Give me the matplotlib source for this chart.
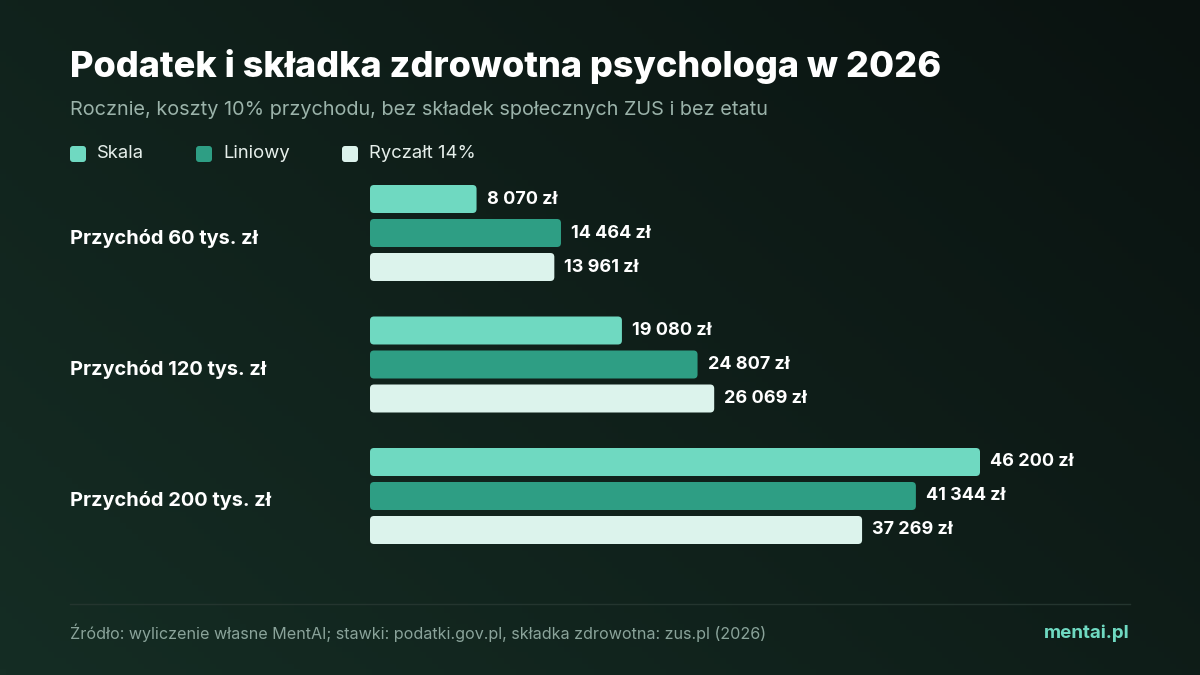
import numpy as np
import matplotlib.pyplot as plt
from matplotlib.patches import FancyBboxPatch

groups = ['Przychód 60 tys. zł', 'Przychód 120 tys. zł', 'Przychód 200 tys. zł']
series = ['Skala', 'Liniowy', 'Ryczałt 14%']
values = {
    'Skala': [8070, 19080, 46200],
    'Liniowy': [14464, 24807, 41344],
    'Ryczałt 14%': [13961, 26069, 37269],
}
colors = ['#6fd9c1', '#2e9e84', '#dcf3ec']

plt.rcParams['font.family'] = ['Inter', 'DejaVu Sans']
W, H = 1200, 675
fig = plt.figure(figsize=(12, 6.75), dpi=100)

# background gradient
bg = fig.add_axes([0, 0, 1, 1])
gx, gy = np.meshgrid(np.linspace(0, 1, 200), np.linspace(0, 1, 120))
g = np.clip(0.6 * gx + 0.4 * (1 - gy), 0, 1)
c0 = np.array([0x15, 0x2d, 0x24]) / 255
c1 = np.array([0x0a, 0x12, 0x10]) / 255
img = c0[None, None, :] * (1 - g[..., None]) + c1[None, None, :] * g[..., None]
bg.imshow(img, aspect='auto', extent=[0, W, H, 0])
bg.set_xlim(0, W); bg.set_ylim(H, 0); bg.axis('off')

# chart axes: x from 370px to 1130px, y in pixels
x0, x1 = 370, 1130
scale = 46200 / (980 - 370)
ax = fig.add_axes([x0 / W, 0, (x1 - x0) / W, 1])
ax.set_xlim(0, (x1 - x0) * scale)
ax.set_ylim(H, 0)
ax.axis('off')

bar_h = 28
for j, s in enumerate(series):
    ys = [233 + i * 131.5 + (j - 1) * 34 for i in range(len(groups))]
    bars = ax.barh(ys, values[s], height=bar_h, color=colors[j])
    for b, v in zip(bars, values[s]):
        b.set_visible(False)
        p = FancyBboxPatch((b.get_x(), b.get_y()), b.get_width(), b.get_height(),
                           boxstyle='round,pad=0,rounding_size=%f' % (4 * scale),
                           mutation_aspect=1 / scale, fc=colors[j], ec='none')
        ax.add_patch(p)
        ax.text(v + 10 * scale, b.get_y() + bar_h / 2, f'{v:,} zł'.replace(',', ' '),
                color='white', fontsize=13, fontweight='bold', va='center')

for i, gname in enumerate(groups):
    bg.text(70, 238 + i * 131.5, gname, color='white', fontsize=14.4,
            fontweight='bold', va='center')

bg.text(70, 66, 'Podatek i składka zdrowotna psychologa w 2026', color='white',
        fontsize=26, fontweight='heavy', va='center')
bg.text(70, 110, 'Rocznie, koszty 10% przychodu, bez składek społecznych ZUS i bez etatu',
        color='#9bb3aa', fontsize=14.3, va='center')
for j, (s, lx) in enumerate(zip(series, [70, 196, 342])):
    bg.add_patch(FancyBboxPatch((lx, 146), 16, 16, boxstyle='round,pad=0,rounding_size=3',
                                fc=colors[j], ec='none'))
    bg.text(lx + 27, 154, s, color='#e6efeb', fontsize=13.3, va='center')

bg.plot([70, 1130], [604, 604], color='#24352f', lw=1)
bg.text(70, 633, 'Źródło: wyliczenie własne MentAI; stawki: podatki.gov.pl, składka zdrowotna: zus.pl (2026)',
        color='#8aa39a', fontsize=11.6, va='center')
bg.text(1130, 633, 'mentai.pl', color='#6fd9c1', fontsize=13.5, fontweight='bold',
        va='center', ha='right')

fig.savefig('out.png', dpi=100)
